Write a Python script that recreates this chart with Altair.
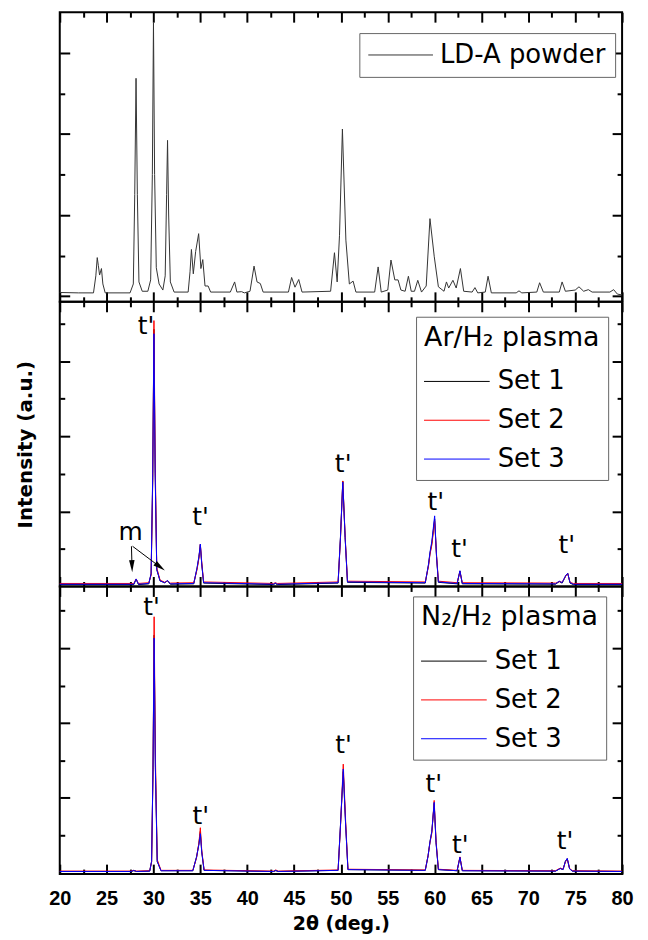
import altair as alt
import pandas as pd

FONT = "DejaVu Sans"
TICK_FONT = "Liberation Sans"

# ---- shared x axis ticks ----
X_MAJOR = [20, 25, 30, 35, 40, 45, 50, 55, 60, 65, 70, 75, 80]
X_MINOR = [22.5, 27.5, 32.5, 37.5, 42.5, 47.5, 52.5, 57.5, 62.5, 67.5, 72.5, 77.5]
X_TITLE = "2θ (deg.)"
Y_TITLE = "Intensity (a.u.)"

# ---- panel 1: LD-A powder ----
P1_NAME = "LD-A powder"
P1_X = [20.0, 22.0, 23.6, 23.85, 24.0, 24.12, 24.25, 24.45, 24.6, 24.85,
        27.5, 27.85, 28.0, 28.14, 28.28, 28.45, 28.8,
        29.4, 29.7, 29.88, 30.0, 30.12, 30.3, 30.6,
        31.0, 31.25, 31.4, 31.5, 31.62, 31.8, 32.2,
        33.7, 33.9, 34.05, 34.25, 34.5, 34.82, 35.06, 35.26, 35.5, 35.83, 36.1,
        38.2, 38.66, 38.9, 39.4, 39.7,
        40.3, 40.73, 41.05, 41.4, 41.7,
        44.4, 44.74, 45.1, 45.5, 45.85,
        48.9, 49.31, 49.6, 49.85, 50.16, 50.53, 50.9, 51.3, 51.6,
        53.6, 53.97, 54.3,
        55.0, 55.34, 55.75, 56.1, 56.4,
        56.85, 57.2, 57.5, 57.85, 58.2, 58.6,
        59.1, 59.5, 59.96, 60.4,
        61.0, 61.26, 61.5, 61.95, 62.3, 62.75, 63.1,
        64.0, 64.3, 64.6, 65.4, 65.7, 66.05,
        68.7, 69.0, 69.3, 70.9, 71.2, 71.6,
        73.3, 73.6, 73.95, 75.0, 75.4, 75.9, 76.4, 76.8,
        78.7, 79.1, 79.5, 80.0]
P1_Y = [0.09, 0.08, 0.08, 0.5, 0.95, 0.75, 0.52, 0.68, 0.3, 0.08,
        0.08, 0.3, 2.5, 5.37, 2.5, 0.35, 0.12,
        0.12, 0.4, 3.0, 6.75, 3.0, 0.7, 0.3,
        0.15, 0.5, 2.5, 3.84, 2.0, 0.35, 0.1,
        0.1, 0.6, 1.15, 0.55, 1.1, 1.54, 0.68, 0.9, 0.25, 0.25, 0.1,
        0.1, 0.35, 0.1, 0.11, 0.08,
        0.12, 0.74, 0.35, 0.31, 0.1,
        0.1, 0.46, 0.22, 0.41, 0.1,
        0.12, 1.07, 0.35, 1.5, 4.12, 1.38, 0.3, 0.37, 0.1,
        0.1, 0.72, 0.1,
        0.15, 0.89, 0.4, 0.4, 0.15,
        0.12, 0.49, 0.12, 0.12, 0.39, 0.1,
        0.25, 1.91, 0.97, 0.23,
        0.12, 0.35, 0.2, 0.39, 0.2, 0.68, 0.12,
        0.1, 0.21, 0.08, 0.1, 0.49, 0.08,
        0.08, 0.13, 0.08, 0.1, 0.33, 0.1,
        0.1, 0.35, 0.12, 0.15, 0.23, 0.12, 0.16, 0.1,
        0.1, 0.16, 0.05, 0.03]
P1_YDOMAIN = [-0.14, 7.0]
P1_YMAJOR = [0, 2, 4, 6]
P1_YMINOR = [1, 3, 5]

# ---- sets ----
SETS = ["Set 1", "Set 2", "Set 3"]
SET_COLORS = ["#000000", "#ff0000", "#0000ff"]

# ---- panel 2: Ar/H2 plasma ----
P2_TITLE = "Ar/H₂ plasma"
P2_X = [20, 25, 27.9, 28.15, 28.4, 29.5, 29.75, 29.92, 30.05, 30.18,
        30.35, 30.7, 31.2, 31.5, 31.8, 34.3, 34.65, 34.85, 35.0, 35.15,
        35.35, 42.8, 43.0, 43.2, 49.7, 49.95, 50.2, 50.45, 50.7, 59.0,
        59.35, 59.5, 59.7, 60.0, 60.2, 60.4, 62.4, 62.7, 62.95, 72.9,
        73.3, 73.6, 74.0, 74.2, 74.45, 74.8, 80]
P2_SET1 = [0.05, 0.05, 0.05, 0.19, 0.05, 0.07, 0.33, 2.9, 6.85, 3.1,
           0.45, 0.15, 0.1, 0.15, 0.06, 0.07, 0.48, 0.78, 1.1, 0.6,
           0.09, 0.05, 0.08, 0.05, 0.09, 1.3, 2.8, 1.3, 0.11, 0.09,
           0.58, 0.88, 1.15, 1.8, 0.8, 0.11, 0.07, 0.41, 0.07, 0.06,
           0.13, 0.09, 0.29, 0.35, 0.09, 0.05, 0.05]
P2_SET2 = [0.08, 0.08, 0.08, 0.2, 0.08, 0.1, 0.3, 2.8, 7.08, 3.4,
           0.5, 0.17, 0.11, 0.15, 0.09, 0.1, 0.45, 0.75, 1.13, 0.65,
           0.12, 0.08, 0.1, 0.08, 0.12, 1.25, 2.81, 1.35, 0.14, 0.12,
           0.55, 0.85, 1.1, 1.75, 0.85, 0.14, 0.1, 0.4, 0.1, 0.09,
           0.13, 0.11, 0.28, 0.34, 0.11, 0.08, 0.08]
P2_SET3 = [0.06, 0.06, 0.06, 0.2, 0.06, 0.08, 0.35, 3.0, 6.73, 3.0,
           0.45, 0.15, 0.1, 0.16, 0.07, 0.08, 0.5, 0.8, 1.13, 0.6,
           0.1, 0.06, 0.09, 0.06, 0.1, 1.3, 2.78, 1.3, 0.12, 0.1,
           0.6, 0.91, 1.2, 1.88, 0.8, 0.12, 0.08, 0.42, 0.08, 0.07,
           0.14, 0.1, 0.3, 0.35, 0.1, 0.06, 0.06]
P2_YDOMAIN = [0, 7.58]
P2_YMAJOR = [2, 4, 6]
P2_YMINOR = [1, 3, 5, 7]
P2_LABEL_X = [29.2, 35.02, 50.24, 60.12, 62.67, 74.09, 27.57]
P2_LABEL_Y = [6.93, 1.84, 3.26, 2.24, 1.0, 1.09, 1.44]
P2_LABEL_TEXT = ["t'", "t'", "t'", "t'", "t'", "t'", "m"]
ARROW_X = [27.65, 27.77]
ARROW_Y = [1.07, 1.07]
ARROW_X2 = [27.71, 30.70]
ARROW_Y2 = [0.54, 0.52]
HEAD_ANGLE = [178, 127]

# ---- panel 3: N2/H2 plasma ----
P3_TITLE = "N₂/H₂ plasma"
P3_X = [20, 27.6, 27.9, 28.2, 29.6, 29.8, 29.95, 30.07, 30.2, 30.4,
        30.8, 34.2, 34.6, 34.85, 35.0, 35.15, 35.4, 42.8, 43.05, 43.3,
        49.7, 49.95, 50.25, 50.5, 50.75, 59.0, 59.3, 59.5, 59.7, 59.95,
        60.15, 60.4, 62.4, 62.7, 62.95, 72.9, 73.4, 73.7, 73.95, 74.15,
        74.4, 74.7, 80]
P3_SET1 = [0.03, 0.03, 0.05, 0.03, 0.04, 0.3, 2.75, 6.35, 2.9, 0.3,
           0.05, 0.05, 0.42, 0.78, 1.1, 0.55, 0.06, 0.03, 0.05, 0.03,
           0.06, 1.25, 2.7, 1.3, 0.08, 0.06, 0.45, 0.82, 1.1, 1.85,
           0.8, 0.08, 0.05, 0.41, 0.05, 0.04, 0.11, 0.08, 0.3, 0.37,
           0.1, 0.04, 0.03]
P3_SET2 = [0.04, 0.04, 0.06, 0.04, 0.05, 0.28, 2.7, 6.84, 3.2, 0.35,
           0.06, 0.06, 0.4, 0.8, 1.2, 0.6, 0.07, 0.04, 0.07, 0.04,
           0.07, 1.2, 2.9, 1.4, 0.09, 0.07, 0.45, 0.8, 1.05, 1.93,
           0.85, 0.09, 0.06, 0.42, 0.06, 0.05, 0.12, 0.09, 0.28, 0.37,
           0.11, 0.05, 0.04]
P3_SET3 = [0.03, 0.03, 0.06, 0.03, 0.04, 0.3, 2.8, 6.27, 2.8, 0.3,
           0.05, 0.05, 0.42, 0.75, 1.04, 0.55, 0.06, 0.03, 0.06, 0.03,
           0.06, 1.25, 2.77, 1.3, 0.08, 0.06, 0.45, 0.82, 1.1, 1.88,
           0.8, 0.08, 0.05, 0.41, 0.05, 0.04, 0.11, 0.08, 0.3, 0.38,
           0.1, 0.04, 0.03]
P3_YDOMAIN = [-0.04, 7.65]
P3_YMAJOR = [2, 4, 6]
P3_YMINOR = [1, 3, 5, 7]
P3_LABEL_X = [29.8, 35.06, 50.29, 59.91, 62.75, 73.92]
P3_LABEL_Y = [7.1, 1.5, 3.41, 2.37, 0.75, 0.85]
P3_LABEL_TEXT = ["t'", "t'", "t'", "t'", "t'", "t'"]


def long_df(x, ys, names):
    rows = []
    for name, y in zip(names, ys):
        for xi, yi in zip(x, y):
            rows.append({"x": xi, "y": yi, "series": name})
    return pd.DataFrame(rows)


def tick_axis(orient, values, size, **kw):
    opts = dict(orient=orient, values=values, tickSize=size, offset=-size,
                domain=False, grid=False, tickColor="black", tickWidth=2,
                labels=False, title=None)
    opts.update(kw)
    return alt.Axis(**opts)


def text_layer(xv, yv, tv):
    d = pd.DataFrame({"x": xv, "y": yv, "label": tv})

    def build(xs, ys):
        return alt.Chart(d).mark_text(font=FONT, fontSize=25, color="black",
                                      align="center", baseline="middle").encode(
            x=alt.X("x:Q", scale=xs, axis=None),
            y=alt.Y("y:Q", scale=ys, axis=None),
            text="label:N")
    return build


def arrow_layers():
    d = pd.DataFrame({"x": ARROW_X, "y": ARROW_Y, "x2": ARROW_X2, "y2": ARROW_Y2,
                      "angle": HEAD_ANGLE})

    def build_rule(xs, ys):
        return alt.Chart(d).mark_rule(color="black", strokeWidth=1).encode(
            x=alt.X("x:Q", scale=xs, axis=None),
            y=alt.Y("y:Q", scale=ys, axis=None),
            x2="x2:Q", y2="y2:Q")

    def build_head(xs, ys):
        return alt.Chart(d).mark_point(shape="M0,-1L0.45,1L-0.45,1Z", filled=True,
                                       size=150, color="black", opacity=1).encode(
            x=alt.X("x2:Q", scale=xs, axis=None),
            y=alt.Y("y2:Q", scale=ys, axis=None),
            angle=alt.Angle("angle:Q", scale=None))
    return [build_rule, build_head]


def make_panel(df, ydomain, ymajor, yminor, color_domain, color_range, legend,
               height, bottom_kw=None, left_kw=None, extras=()):
    xs = alt.Scale(domain=[20, 80], nice=False, zero=False)
    ys = alt.Scale(domain=ydomain, nice=False, zero=False)
    lines = alt.Chart(df).mark_line(strokeWidth=1).encode(
        x=alt.X("x:Q", scale=xs, axis=tick_axis("bottom", X_MAJOR, 10, **(bottom_kw or {}))),
        y=alt.Y("y:Q", scale=ys, axis=tick_axis("left", ymajor, 10, **(left_kw or {}))),
        color=alt.Color("series:N", scale=alt.Scale(domain=color_domain, range=color_range),
                        legend=legend),
    )

    def ghost(xaxis, yaxis):
        return alt.Chart(df).mark_line(strokeOpacity=0).encode(
            x=alt.X("x:Q", scale=xs, axis=xaxis),
            y=alt.Y("y:Q", scale=ys, axis=yaxis))

    layers = [lines,
              ghost(tick_axis("bottom", X_MINOR, 5), tick_axis("left", yminor, 5)),
              ghost(tick_axis("top", X_MAJOR, 10), tick_axis("right", ymajor, 10)),
              ghost(tick_axis("top", X_MINOR, 5), tick_axis("right", yminor, 5))]
    for e in extras:
        layers.append(e(xs, ys))
    return alt.layer(*layers).resolve_axis(x="independent", y="independent").properties(
        width=565, height=height)


def legend_for(title, lx, ly, font_size, line_len, gap, pad, row_gap=None,
               title_size=None, title_pad=None):
    # nominal symbol size equals the label height so rows stay compact;
    # the stroke path runs from the entry's left edge over line_len pixels.
    base = font_size - 1
    unit = base / 2.0
    centre = font_size / 2.0
    left = -centre / unit
    right = (line_len - centre) / unit
    opts = dict(orient="none", legendX=lx, legendY=ly,
                symbolType=f"M{left:.3f},0H{right:.3f}",
                symbolSize=base * base, symbolStrokeWidth=1,
                labelOffset=line_len + gap - font_size,
                labelFont=FONT, labelFontSize=font_size,
                labelColor="black", labelLimit=400, strokeColor="#666666",
                fillColor="white", padding=pad)
    if row_gap is not None:
        opts.update(rowPadding=row_gap - font_size)
    if title is not None:
        opts.update(title=title, titleFont=FONT, titleFontSize=title_size,
                    titleFontWeight="normal", titleColor="black", titleLimit=400,
                    titlePadding=title_pad)
    else:
        opts.update(title=None)
    return alt.Legend(**opts)


df1 = long_df(P1_X, [P1_Y], [P1_NAME])
df2 = long_df(P2_X, [P2_SET1, P2_SET2, P2_SET3], SETS)
df3 = long_df(P3_X, [P3_SET1, P3_SET2, P3_SET3], SETS)

p1 = make_panel(df1, P1_YDOMAIN, P1_YMAJOR, P1_YMINOR, [P1_NAME], ["#333333"],
                legend_for(None, 301, 21, 26, 65, 7, 9), 291)

p2 = make_panel(df2, P2_YDOMAIN, P2_YMAJOR, P2_YMINOR, SETS, SET_COLORS,
                legend_for(P2_TITLE, 358, 15, 26, 66, 8, 8, row_gap=39,
                           title_size=27, title_pad=17), 286,
                left_kw=dict(title=Y_TITLE, titleFont=FONT, titleFontSize=20,
                             titleFontWeight="bold", titleColor="black", titlePadding=23),
                extras=[text_layer(P2_LABEL_X, P2_LABEL_Y, P2_LABEL_TEXT)] + arrow_layers())

p3 = make_panel(df3, P3_YDOMAIN, P3_YMAJOR, P3_YMINOR, SETS, SET_COLORS,
                legend_for(P3_TITLE, 355, 10, 26, 66, 8, 8, row_gap=39,
                           title_size=27, title_pad=17), 289,
                bottom_kw=dict(labels=True, labelFont=TICK_FONT, labelFontSize=20,
                               labelFontWeight="bold", labelColor="black", labelPadding=15,
                               labelFlush=False, title=X_TITLE, titleFont=FONT,
                               titleFontSize=19, titleFontWeight="bold", titleColor="black",
                               titlePadding=6),
                extras=[text_layer(P3_LABEL_X, P3_LABEL_Y, P3_LABEL_TEXT)])

chart = alt.vconcat(p1, p2, p3, spacing=0, bounds="flush").resolve_scale(
    color="independent").properties(
    padding={"left": 7, "top": 0, "right": 5, "bottom": 0}).configure_view(
    stroke="black", strokeWidth=2)

chart.save("out.html", embed_options={"renderer": "svg", "actions": False})
